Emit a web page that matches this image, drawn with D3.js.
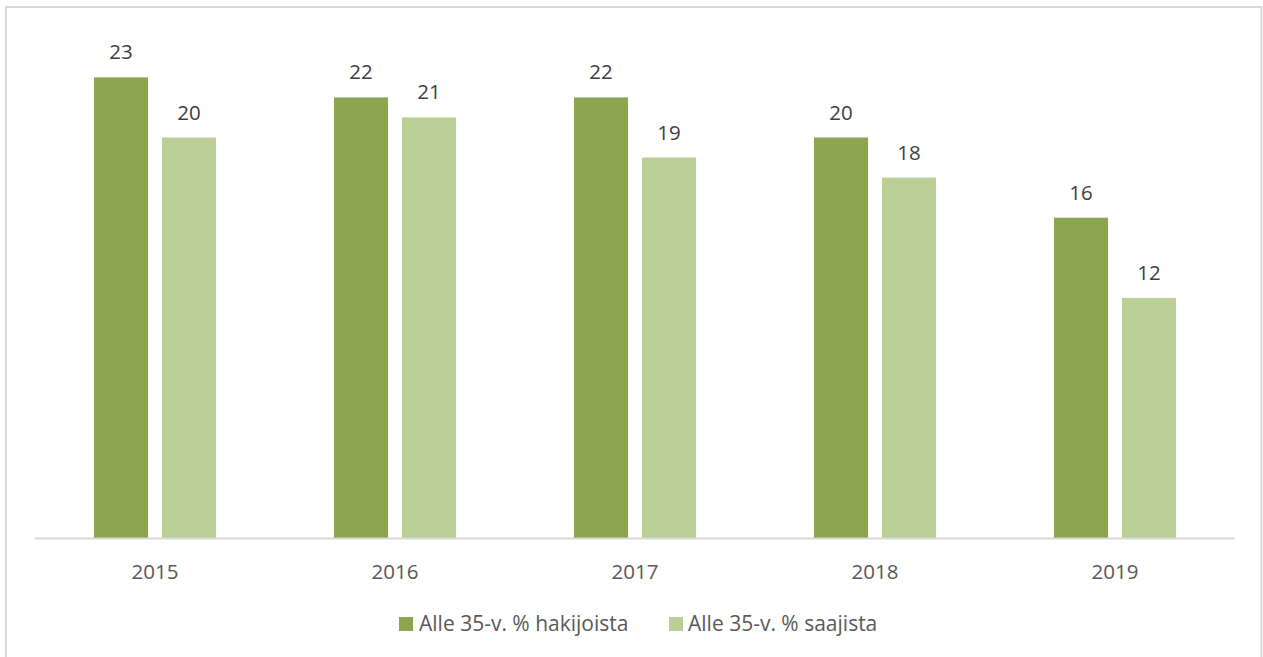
<!DOCTYPE html>
<html>
<head>
<meta charset="utf-8">
<script src="https://cdn.jsdelivr.net/npm/d3@7/dist/d3.min.js"></script>
<style>
html,body{margin:0;padding:0;background:#fff;}
svg{display:block;font-family:"Open Sans",sans-serif;}
</style>
</head>
<body>
<svg id="chart" width="1263" height="657"></svg>
<script>
const categories = ["2015","2016","2017","2018","2019"];
const seriesNames = ["Alle 35-v. % hakijoista","Alle 35-v. % saajista"];
const hakijoista = [23,22,22,20,16];
const saajista = [20,21,19,18,12];
const colors = ["#8BA64E","#B9CF96"];

(function(){
const svg = d3.select("#chart");

// chart border
svg.append("rect").attr("x",6).attr("y",7).attr("width",1255.5).attr("height",660)
  .attr("fill","none").attr("stroke","#d9d9d9").attr("stroke-width",2);

const plotLeft = 35, plotRight = 1235, base = 538.5, plotTop = base - 25*20.05;
const x0 = d3.scaleBand().domain(categories).range([plotLeft,plotRight])
  .paddingInner(118/240).paddingOuter(59/240);
const x1 = d3.scaleBand().domain(seriesNames).range([0,x0.bandwidth()]).paddingInner(14/68);
const y = d3.scaleLinear().domain([0,25]).range([base, plotTop]);

const data = categories.map((c,i)=>({cat:c, vals:[hakijoista[i], saajista[i]]}));

const g = svg.selectAll("g.cat").data(data).enter().append("g").attr("class","cat")
  .attr("transform", d=>`translate(${x0(d.cat)},0)`);

g.selectAll("rect").data(d=>d.vals.map((v,j)=>({name:seriesNames[j], v, j}))).enter()
  .append("rect")
  .attr("x", d=>x1(d.name))
  .attr("y", d=>y(d.v))
  .attr("width", x1.bandwidth())
  .attr("height", d=>base - y(d.v))
  .attr("fill", d=>colors[d.j]);

g.selectAll("text.val").data(d=>d.vals.map((v,j)=>({name:seriesNames[j], v, j}))).enter()
  .append("text").attr("class","val")
  .attr("x", d=>x1(d.name)+x1.bandwidth()/2)
  .attr("y", d=>y(d.v)-18)
  .attr("text-anchor","middle")
  .attr("font-size",20.5)
  .attr("fill","#404040")
  .text(d=>d.v);

// x axis
const xAxis = d3.axisBottom(x0).tickSize(0).tickPadding(0);
const ax = svg.append("g").attr("transform",`translate(0,${base})`).call(xAxis);
ax.select(".domain").attr("stroke","#d9d9d9").attr("stroke-width",2).attr("d",`M${plotLeft},0H${plotRight}`);
ax.selectAll(".tick text").attr("font-size",20.5).attr("fill","#595959")
  .attr("font-family","Open Sans, sans-serif").attr("dy",null).attr("y",40);

// legend
const legendItems = [{x:399, tx:419}, {x:669, tx:688}];
const leg = svg.append("g");
seriesNames.forEach((n,i)=>{
  leg.append("rect").attr("x",legendItems[i].x).attr("y",617).attr("width",14).attr("height",14).attr("fill",colors[i]);
  leg.append("text").attr("x",legendItems[i].tx).attr("y",631).attr("font-size",21)
    .attr("fill","#595959").text(n);
});
})();
</script>
</body>
</html>
